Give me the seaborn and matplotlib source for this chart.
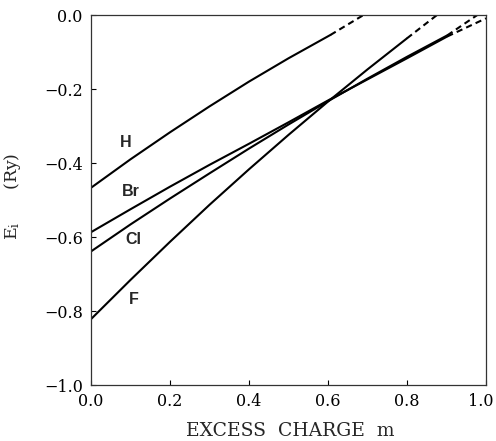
import matplotlib
matplotlib.use("Agg")
import matplotlib.pyplot as plt
import matplotlib.transforms as mtransforms
import seaborn as sns
import pandas as pd

# ---- data ----
m_H = [0.0, 0.1, 0.2, 0.3, 0.4, 0.5, 0.606]
E_H = [-0.467, -0.390, -0.317, -0.247, -0.180, -0.117, -0.054]
m_H_ext = [0.606, 0.69]
E_H_ext = [-0.054, 0.0]

m_Br = [0.0, 0.1, 0.2, 0.3, 0.4, 0.5, 0.6, 0.7, 0.8, 0.902]
E_Br = [-0.587, -0.525, -0.464, -0.405, -0.348, -0.290, -0.231, -0.174, -0.117, -0.058]
m_Br_ext = [0.902, 1.0]
E_Br_ext = [-0.058, -0.009]

m_Cl = [0.0, 0.1, 0.2, 0.3, 0.4, 0.5, 0.6, 0.7, 0.8, 0.902]
E_Cl = [-0.639, -0.566, -0.496, -0.428, -0.361, -0.296, -0.233, -0.172, -0.113, -0.055]
m_Cl_ext = [0.902, 0.978]
E_Cl_ext = [-0.055, 0.0]

m_F = [0.0, 0.1, 0.2, 0.3, 0.4, 0.5, 0.6, 0.7, 0.8]
E_F = [-0.822, -0.716, -0.613, -0.513, -0.417, -0.324, -0.234, -0.147, -0.063]
m_F_ext = [0.80, 0.876]
E_F_ext = [-0.063, 0.0]

labels = ["H", "Br", "Cl", "F"]
label_m = [0.089, 0.101, 0.108, 0.109]
label_E = [-0.344, -0.477, -0.607, -0.768]

xticks = [0.0, 0.2, 0.4, 0.6, 0.8, 1.0]
yticks = [-1.0, -0.8, -0.6, -0.4, -0.2, 0.0]
xticklabels = ["0.0", "0.2", "0.4", "0.6", "0.8", "1.0"]
yticklabels = ["\u22121.0", "\u22120.8", "\u22120.6", "\u22120.4", "\u22120.2", "0.0"]

# ---- style ----
sns.set_style("ticks")
plt.rcParams["font.family"] = ["DejaVu Serif"]
plt.rcParams["mathtext.fontset"] = "dejavuserif"

fig = plt.figure(figsize=(4.96, 4.41), dpi=100)
ax = fig.add_axes([91 / 496, 1 - 385 / 441, 395 / 496, 370 / 441])

lw = 1.5
solid = [(m_H, E_H), (m_Br, E_Br), (m_Cl, E_Cl), (m_F, E_F)]
dashed = [(m_H_ext, E_H_ext), (m_Br_ext, E_Br_ext), (m_Cl_ext, E_Cl_ext), (m_F_ext, E_F_ext)]
for mx, ey in solid:
    df = pd.DataFrame({"m": mx, "E": ey})
    sns.lineplot(data=df, x="m", y="E", ax=ax, color="black", lw=lw,
                 sort=False, estimator=None)
for mx, ey in dashed:
    df = pd.DataFrame({"m": mx, "E": ey})
    sns.lineplot(data=df, x="m", y="E", ax=ax, color="black", lw=lw,
                 sort=False, estimator=None, linestyle=(0, (3, 2)))

for t, xm, ye in zip(labels, label_m, label_E):
    ax.text(xm, ye, t, family="Liberation Sans", weight="bold", fontsize=11.5,
            ha="center", va="center")

ax.set_xlim(0, 1)
ax.set_ylim(-1, 0)
ax.set_xticks(xticks)
ax.set_xticklabels(xticklabels)
ax.set_yticks(yticks)
ax.set_yticklabels(yticklabels)
ax.tick_params(direction="in", length=3.5, width=0.8, labelsize=11.5, pad=6,
               colors="black", top=False, right=False)
# nudge the last x tick label so it stays inside the figure
last = ax.get_xticklabels()[-1]
last.set_transform(last.get_transform() +
                   mtransforms.ScaledTranslation(-5 / 100, 0, fig.dpi_scale_trans))
for s in ax.spines.values():
    s.set_linewidth(0.9)
    s.set_color("#333333")
    s.set_visible(True)

ax.set_xlabel("EXCESS  CHARGE  m", fontsize=13.5)
ax.set_ylabel(r"$\mathrm{E_i}$" + "      (Ry)", fontsize=12.5)
ax.xaxis.set_label_coords(0.504, -0.10)
ax.yaxis.set_label_coords(-0.172, 0.51)

fig.savefig("out.png", dpi=100)
